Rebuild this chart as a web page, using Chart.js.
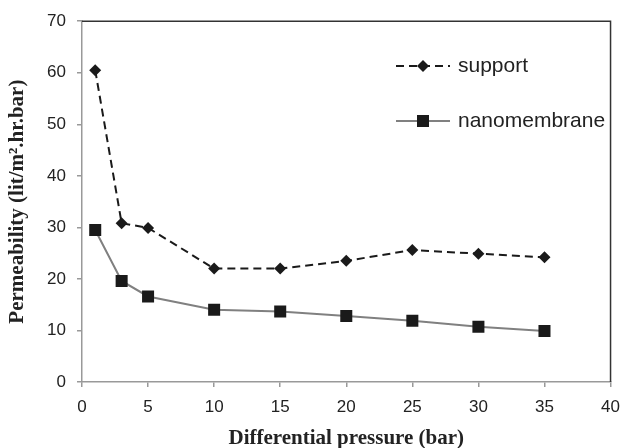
<!DOCTYPE html>
<html>
<head>
    <meta charset="utf-8">
    <title>Permeability vs differential pressure</title>
    <script src="https://cdn.jsdelivr.net/npm/chart.js@4.4.1/dist/chart.umd.min.js"></script>
    <style>
        body { margin: 0; background: #fff; }
        #wrap { width: 630px; height: 448px; }
    </style>
</head>
<body>
    <div id="wrap"><canvas id="grafico" width="630" height="448"></canvas></div>
    <script>
        // dados
        var pressao = [1, 3, 5, 10, 15, 20, 25, 30, 35];
        var suporte = [60.5, 30.8, 29.9, 22.0, 22.0, 23.5, 25.6, 24.9, 24.2];
        var nanomembrana = [29.5, 19.6, 16.6, 14.0, 13.7, 12.8, 11.9, 10.7, 9.9];
        var rotulos = ['support', 'nanomembrane'];

        function pontos(ys) {
            return pressao.map(function (x, i) { return { x: x, y: ys[i] }; });
        }

        // moldura superior e direita
        var moldura = {
            id: 'moldura',
            afterDraw: function (chart) {
                var a = chart.chartArea, c = chart.ctx;
                c.save();
                c.strokeStyle = '#333';
                c.lineWidth = 1.5;
                c.beginPath();
                c.moveTo(a.left, a.top);
                c.lineTo(a.right, a.top);
                c.lineTo(a.right, a.bottom);
                c.stroke();
                c.restore();
            }
        };

        // legenda dentro da área do gráfico
        var legenda = {
            id: 'legenda',
            afterDraw: function (chart) {
                var c = chart.ctx;
                var itens = [
                    { y: 66, cor: '#1a1a1a', tracejado: [8, 5], forma: 'diamante' },
                    { y: 121, cor: '#808080', tracejado: [], forma: 'quadrado' }
                ];
                c.save();
                itens.forEach(function (it, i) {
                    c.strokeStyle = it.cor;
                    c.lineWidth = 2;
                    c.setLineDash(it.tracejado);
                    c.beginPath();
                    c.moveTo(396, it.y);
                    c.lineTo(450, it.y);
                    c.stroke();
                    c.setLineDash([]);
                    c.fillStyle = '#1a1a1a';
                    c.beginPath();
                    if (it.forma === 'diamante') {
                        c.moveTo(423, it.y - 6);
                        c.lineTo(429, it.y);
                        c.lineTo(423, it.y + 6);
                        c.lineTo(417, it.y);
                        c.closePath();
                    } else {
                        c.rect(417, it.y - 6, 12, 12);
                    }
                    c.fill();
                    c.fillStyle = '#222';
                    c.font = '21px "Liberation Sans", Arial, sans-serif';
                    c.textBaseline = 'middle';
                    c.fillText(rotulos[i], 458, it.y);
                });
                c.restore();
            }
        };

        var ctx = document.getElementById('grafico').getContext('2d');
        var grafico = new Chart(ctx, {
            type: 'line',
            data: {
                datasets: [{
                    label: rotulos[0],
                    data: pontos(suporte),
                    borderColor: '#1a1a1a',
                    borderWidth: 2,
                    borderDash: [8, 5],
                    pointStyle: 'rectRot',
                    pointRadius: 6,
                    pointBackgroundColor: '#1a1a1a',
                    pointBorderWidth: 0,
                    fill: false,
                    tension: 0
                }, {
                    label: rotulos[1],
                    data: pontos(nanomembrana),
                    borderColor: '#808080',
                    borderWidth: 2,
                    pointStyle: 'rect',
                    pointRadius: 8.5,
                    pointBackgroundColor: '#1a1a1a',
                    pointBorderWidth: 0,
                    fill: false,
                    tension: 0
                }]
            },
            options: {
                responsive: false,
                animation: false,
                layout: { padding: { top: 17, right: 10, left: 0, bottom: 0 } },
                plugins: {
                    legend: { display: false },
                    tooltip: { enabled: false }
                },
                scales: {
                    x: {
                        type: 'linear',
                        min: 0,
                        max: 40,
                        afterFit: function (s) { s.height = 66; },
                        ticks: {
                            stepSize: 5,
                            padding: 10,
                            color: '#222',
                            font: { family: '"Liberation Sans", Arial', size: 17 }
                        },
                        grid: { drawOnChartArea: false, drawTicks: true, tickLength: 5, color: '#999', lineWidth: 1.5 },
                        border: { color: '#999', width: 1.5 },
                        title: {
                            display: true,
                            text: 'Differential pressure (bar)',
                            color: '#222',
                            font: { family: '"Liberation Serif", "Times New Roman", serif', size: 21, weight: 'bold' },
                            padding: { top: 0, bottom: -3 }
                        }
                    },
                    y: {
                        min: 0,
                        max: 70,
                        afterFit: function (s) { s.width = 82; },
                        ticks: {
                            stepSize: 10,
                            padding: 11,
                            color: '#222',
                            font: { family: '"Liberation Sans", Arial', size: 17 }
                        },
                        grid: { drawOnChartArea: false, drawTicks: true, tickLength: 5, color: '#999', lineWidth: 1.5 },
                        border: { color: '#999', width: 1.5 },
                        title: {
                            display: true,
                            text: 'Permeability (lit/m².hr.bar)',
                            color: '#222',
                            font: { family: '"Liberation Serif", "Times New Roman", serif', size: 21, weight: 'bold' },
                            padding: { top: 5, bottom: 0 }
                        }
                    }
                }
            },
            plugins: [moldura, legenda]
        });
    </script>
</body>
</html>
